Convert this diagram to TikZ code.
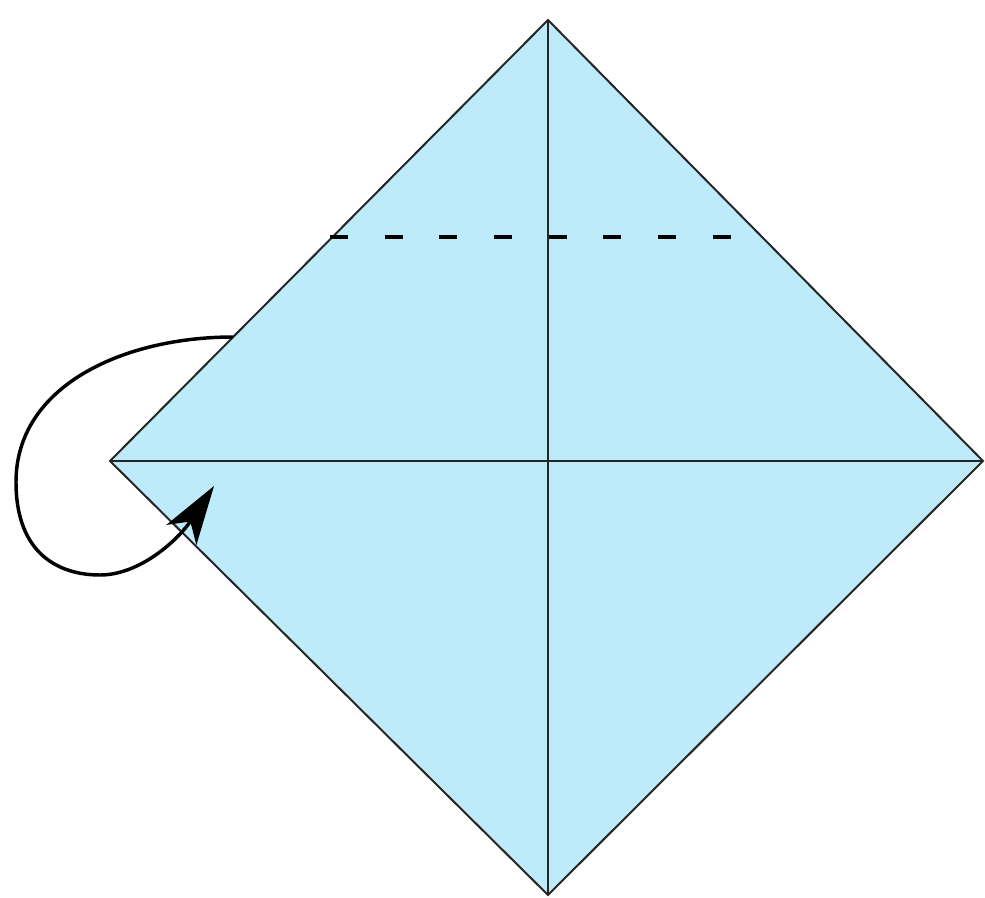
\documentclass[tikz,border=0pt]{standalone}
\usetikzlibrary{arrows.meta}
\definecolor{paper}{RGB}{189,235,250}
\tikzset{
  edge/.style={line width=1.5pt, draw=black!85},
  crease/.style={line width=1.2pt, draw=black!85},
  valley/.style={line width=3pt, dash pattern=on 13.5pt off 27.5pt},
  foldarrow/.style={line width=2.6pt, -{Stealth[length=44pt,width=27pt,inset=12pt]}}
}
\begin{document}
\begin{tikzpicture}[x=0.75pt,y=-0.75pt]
\useasboundingbox (0,0) rectangle (985,898);
\coordinate (T) at (548,20);
\coordinate (R) at (983,461);
\coordinate (B) at (548,895);
\coordinate (L) at (110,461);
\coordinate (DL) at (330,237);
\coordinate (DR) at (736,237);
\coordinate (AS) at (233,337);
\coordinate (AE) at (214,486);
\fill[paper] (T) -- (R) -- (B) -- (L) -- cycle;
\draw[crease] (T) -- (B);
\draw[crease] (L) -- (R);
\draw[edge, line join=miter] (T) -- (R) -- (B) -- (L) -- cycle;
\draw[valley] (DL) -- (DR);
\draw[foldarrow] (AS) .. controls (125,337) and (16,385) .. (16,482)
  .. controls (16,555) and (60,575) .. (100,575)
  .. controls (140,575) and (178,540) .. (AE);
\end{tikzpicture}
\end{document}
